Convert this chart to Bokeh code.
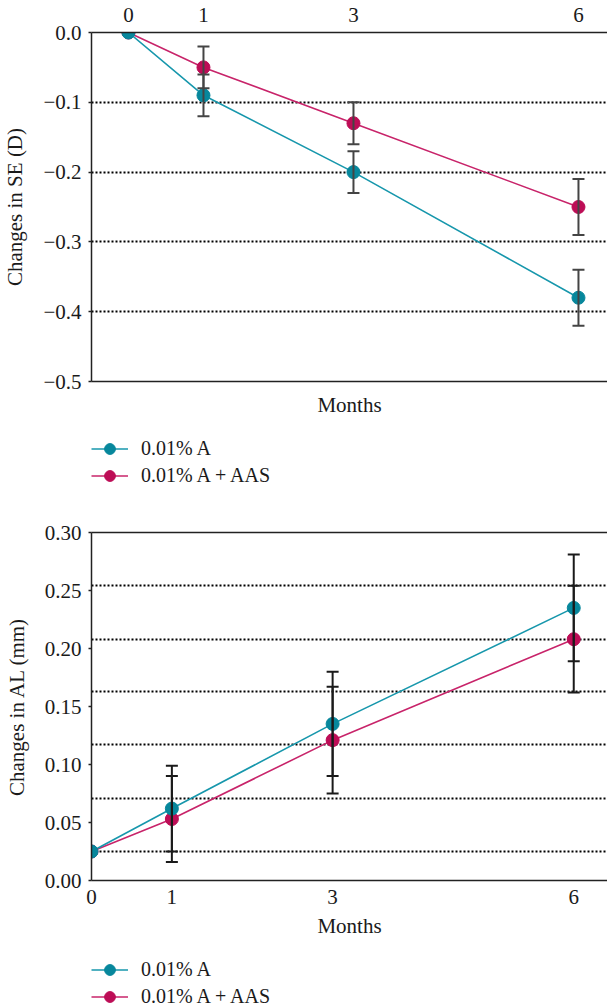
from bokeh.plotting import figure
from bokeh.models import (ColumnDataSource, Range1d, FixedTicker, LinearAxis,
                          Whisker, TeeHead, Legend, LegendItem)
from bokeh.layouts import column
from bokeh.embed import file_html
from bokeh.resources import INLINE

# ---------------- data ----------------
months = [0, 1, 3, 6]
series_names = ["0.01% A", "0.01% A + AAS"]

se_a = [0.0, -0.09, -0.20, -0.38]
se_a_err = [0.0, 0.03, 0.03, 0.04]
se_aas = [0.0, -0.05, -0.13, -0.25]
se_aas_err = [0.0, 0.03, 0.03, 0.04]

al_a = [0.025, 0.062, 0.135, 0.235]
al_a_err = [0.0, 0.037, 0.045, 0.046]
al_aas = [0.025, 0.053, 0.121, 0.208]
al_aas_err = [0.0, 0.037, 0.046, 0.046]

se_yticks = [0.0, -0.1, -0.2, -0.3, -0.4, -0.5]
se_ylabels = ["0.0", "\u22120.1", "\u22120.2", "\u22120.3", "\u22120.4", "\u22120.5"]
se_grid = [-0.1, -0.2, -0.3, -0.4]

al_yticks = [0.0, 0.05, 0.10, 0.15, 0.20, 0.25, 0.30]
al_ylabels = ["0.00", "0.05", "0.10", "0.15", "0.20", "0.25", "0.30"]
al_grid = [0.025, 0.071, 0.117, 0.163, 0.208, 0.254]

xticks = [0, 1, 3, 6]

# ---------------- style ----------------
FONT = "Liberation Serif"
FS = "21px"
FS_LEG = "20px"
TXT = "#1a1a1a"
AX = "#222222"
C_A_MARK, C_A_LINE = "#07879c", "#1797ac"
C_S_MARK, C_S_LINE = "#bd0d56", "#c8246a"
W = 607


def style_axis(ax, ticks=None, labels=None, label="", tick_out=0, standoff=6, label_standoff=10):
    ax.axis_line_color = AX
    ax.axis_line_width = 1.5
    ax.major_tick_line_color = AX
    ax.major_tick_line_width = 1.5
    ax.major_tick_in = 0
    ax.major_tick_out = tick_out
    ax.minor_tick_in = 0
    ax.minor_tick_out = 0
    ax.major_label_text_font = FONT
    ax.major_label_text_font_size = FS
    ax.major_label_text_color = TXT
    ax.major_label_standoff = standoff
    ax.axis_label = label
    ax.axis_label_text_font = FONT
    ax.axis_label_text_font_size = FS
    ax.axis_label_text_font_style = "normal"
    ax.axis_label_text_color = TXT
    ax.axis_label_standoff = label_standoff
    ax.ticker = FixedTicker(ticks=ticks if ticks is not None else [])
    if labels is not None:
        ax.major_label_overrides = {t: l for t, l in zip(ticks, labels)}


def add_series(p, y, err, line_c, whisk_c):
    src = ColumnDataSource(dict(x=months, y=y))
    lr = p.line("x", "y", source=src, line_color=line_c, line_width=1.6)
    wx = [m for m, e in zip(months, err) if e > 0]
    wu = [v + e for v, e in zip(y, err) if e > 0]
    wl = [v - e for v, e in zip(y, err) if e > 0]
    wsrc = ColumnDataSource(dict(x=wx, upper=wu, lower=wl))
    w = Whisker(source=wsrc, base="x", upper="upper", lower="lower",
                line_color=whisk_c, line_width=2, level="glyph",
                upper_head=TeeHead(size=12, line_color=whisk_c, line_width=2),
                lower_head=TeeHead(size=12, line_color=whisk_c, line_width=2))
    p.add_layout(w)
    return lr, src


def add_markers(p, src, mark_c):
    return p.scatter("x", "y", source=src, size=13, fill_color=mark_c, line_color=mark_c)


def legend_figure(height, srcs, colors, loc):
    # A strip holding only the legend; its ranges lie away from the data,
    # so the renderers only serve as legend glyphs.
    lf = figure(width=W, height=height, x_range=Range1d(100, 101), y_range=Range1d(100, 101),
                x_axis_location=None, y_axis_location=None, output_backend="svg",
                toolbar_location=None, min_border=0)
    lf.outline_line_color = None
    lf.xgrid.visible = False
    lf.ygrid.visible = False
    items = []
    for name, src, (lc, mc) in zip(series_names, srcs, colors):
        lr = lf.line("x", "y", source=src, line_color=lc, line_width=1.6)
        mr = lf.scatter("x", "y", source=src, size=13, fill_color=mc, line_color=mc)
        items.append(LegendItem(label=name, renderers=[lr, mr]))
    lg = Legend(items=items, location=loc, orientation="vertical",
                margin=0, padding=0, spacing=0,
                glyph_width=37, glyph_height=27, label_standoff=13,
                label_text_font=FONT, label_text_font_size=FS_LEG, label_text_color=TXT,
                border_line_alpha=0, background_fill_alpha=0)
    lf.add_layout(lg)
    return lf


# ---------------- top chart: SE ----------------
p1 = figure(width=W, height=420, x_range=Range1d(-0.493, 6.387), y_range=Range1d(-0.5, 0),
            x_axis_location="above", output_backend="svg", toolbar_location=None,
            min_border_left=91, min_border_right=0, min_border_top=32, min_border_bottom=39)
p1.outline_line_color = None
p1.xgrid.visible = False
p1.ygrid.ticker = FixedTicker(ticks=se_grid)
p1.ygrid.grid_line_color = "black"
p1.ygrid.grid_line_width = 2
p1.ygrid.grid_line_dash = "2 2"

style_axis(p1.xaxis[0], xticks, None, "", tick_out=0, standoff=11)
style_axis(p1.yaxis[0], se_yticks, se_ylabels, "Changes in SE (D)", tick_out=3, standoff=7, label_standoff=13)
bx1 = LinearAxis()
p1.add_layout(bx1, "below")
style_axis(bx1, [], None, "Months", tick_out=0, standoff=0, label_standoff=11)

l_s1, s_s1 = add_series(p1, se_aas, se_aas_err, C_S_LINE, "#444444")
l_a1, s_a1 = add_series(p1, se_a, se_a_err, C_A_LINE, "#444444")
add_markers(p1, s_s1, C_S_MARK)
add_markers(p1, s_a1, C_A_MARK)

leg1 = legend_figure(85, [s_a1, s_s1], [(C_A_LINE, C_A_MARK), (C_S_LINE, C_S_MARK)], (0, 16))

# ---------------- bottom chart: AL ----------------
p2 = figure(width=W, height=435, x_range=Range1d(0, 6.42), y_range=Range1d(0, 0.3),
            output_backend="svg", toolbar_location=None,
            min_border_left=90, min_border_right=0, min_border_top=27, min_border_bottom=58)
p2.outline_line_color = None
p2.xgrid.visible = False
p2.ygrid.ticker = FixedTicker(ticks=al_grid)
p2.ygrid.grid_line_color = "black"
p2.ygrid.grid_line_width = 2
p2.ygrid.grid_line_dash = "2 2"

style_axis(p2.xaxis[0], xticks, None, "Months", tick_out=0, standoff=9, label_standoff=7)
style_axis(p2.yaxis[0], al_yticks, al_ylabels, "Changes in AL (mm)", tick_out=3, standoff=7, label_standoff=13)
ax2 = LinearAxis()
p2.add_layout(ax2, "above")
style_axis(ax2, [], None, "", tick_out=0, standoff=0, label_standoff=0)

l_s2, s_s2 = add_series(p2, al_aas, al_aas_err, C_S_LINE, "#1a1a1a")
l_a2, s_a2 = add_series(p2, al_a, al_a_err, C_A_LINE, "#1a1a1a")
add_markers(p2, s_s2, C_S_MARK)
add_markers(p2, s_a2, C_A_MARK)

leg2 = legend_figure(66, [s_a2, s_s2], [(C_A_LINE, C_A_MARK), (C_S_LINE, C_S_MARK)], (0, -4))

layout = column(p1, leg1, p2, leg2, spacing=0)
open("out.html", "w").write(file_html(layout, INLINE))
